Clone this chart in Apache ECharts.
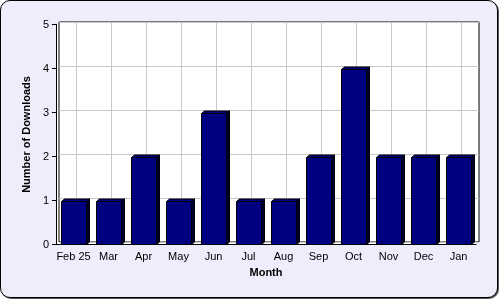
<!DOCTYPE html>
<html><head><meta charset="utf-8">
<script src="https://cdn.jsdelivr.net/npm/echarts@6/dist/echarts.min.js"></script>
<style>
html,body{margin:0;padding:0;background:#fff;}
#frame{position:absolute;left:0;top:0;width:496px;height:296px;border:1px solid #000;border-radius:10px;background:#ededfb;box-shadow:1px 1px 0 #555;}
#chart{position:absolute;left:0;top:0;width:500px;height:300px;}
</style></head>
<body>
<div id="frame"></div>
<div id="chart"></div>
<script>
const categories = ['Feb 25','Mar','Apr','May','Jun','Jul','Aug','Sep','Oct','Nov','Dec','Jan'];
const downloads = [1,1,2,1,3,1,1,2,4,2,2,2];
const yTicks = [0,1,2,3,4,5];
const backSlots = Array.from({length: categories.length * 2 + 1}, () => '');

const DX = 3, DY = -2.5;
const chart = echarts.init(document.getElementById('chart'), null, {renderer: 'canvas'});
const font = 'Liberation Sans, Arial, sans-serif';

chart.setOption({
  animation: false,
  grid: [
    {left: 56, right: 24, top: 24.5, bottom: 55.5, show: true, backgroundColor: '#fff', borderWidth: 0},
    {left: 56 + DX, right: 24 - DX, top: 24.5 + DY, bottom: 55.5 - DY, show: true, backgroundColor: '#fff', borderColor: '#000', borderWidth: 1}
  ],
  xAxis: [
    {gridIndex: 0, type: 'category', data: categories, boundaryGap: true,
     axisLine: {lineStyle: {color: '#000'}},
     axisTick: {alignWithLabel: true, length: 4, lineStyle: {color: '#000'}},
     axisLabel: {color: '#000', fontFamily: font, fontSize: 11, margin: 7, interval: 0},
     splitLine: {show: false},
     name: 'Month', nameLocation: 'middle', nameGap: 23,
     nameTextStyle: {fontFamily: font, fontSize: 11, fontWeight: 'bold', color: '#000'}},
    {gridIndex: 1, type: 'category', data: backSlots, boundaryGap: false,
     axisLine: {show: false}, axisTick: {show: false}, axisLabel: {show: false},
     splitLine: {show: true, interval: (i) => i % 2 === 1, lineStyle: {color: '#c8c8c8', width: 1}}}
  ],
  yAxis: [
    {gridIndex: 0, type: 'value', min: 0, max: 5, interval: 1,
     axisLine: {show: true, lineStyle: {color: '#000'}},
     axisTick: {show: true, length: 4, lineStyle: {color: '#000'}},
     axisLabel: {color: '#000', fontFamily: font, fontSize: 11, margin: 7, formatter: (v) => yTicks.includes(v) ? String(v) : ''},
     splitLine: {show: false},
     name: 'Number of Downloads', nameLocation: 'middle', nameGap: 17, nameRotate: 90,
     nameTextStyle: {fontFamily: font, fontSize: 11, fontWeight: 'bold', color: '#000'}},
    {gridIndex: 1, type: 'value', min: 0, max: 5, interval: 1,
     axisLine: {show: false}, axisTick: {show: false}, axisLabel: {show: false},
     splitLine: {show: true, lineStyle: {color: '#c8c8c8', width: 1}}}
  ],
  series: [{
    type: 'custom',
    xAxisIndex: 0, yAxisIndex: 0,
    data: downloads.map((v, i) => [i, v]),
    z: 5,
    renderItem: function (params, api) {
      const i = api.value(0), v = api.value(1);
      const top = api.coord([i, v]);
      const base = api.coord([i, 0]);
      const bw = api.size([1, 0])[0] * 0.71;
      const x0 = Math.round(top[0] - bw / 2) + 0.5;
      const x1 = x0 + Math.round(bw);
      const yt = Math.round(top[1]) + 0.5;
      const yb = Math.round(base[1]) - 0.5;
      return {
        type: 'group',
        children: [
          {type: 'polygon', shape: {points: [[x1, yt], [x1 + DX, yt + DY], [x1 + DX, yb + DY], [x1, yb]]},
           style: {fill: '#000030', stroke: '#000', lineWidth: 1}},
          {type: 'polygon', shape: {points: [[x0, yt], [x0 + DX, yt + DY], [x1 + DX, yt + DY], [x1, yt]]},
           style: {fill: '#000080', stroke: '#000', lineWidth: 1}},
          {type: 'rect', shape: {x: x0, y: yt, width: x1 - x0, height: yb - yt},
           style: {fill: '#000080', stroke: '#000', lineWidth: 1}}
        ]
      };
    }
  }]
});
</script>
</body></html>
